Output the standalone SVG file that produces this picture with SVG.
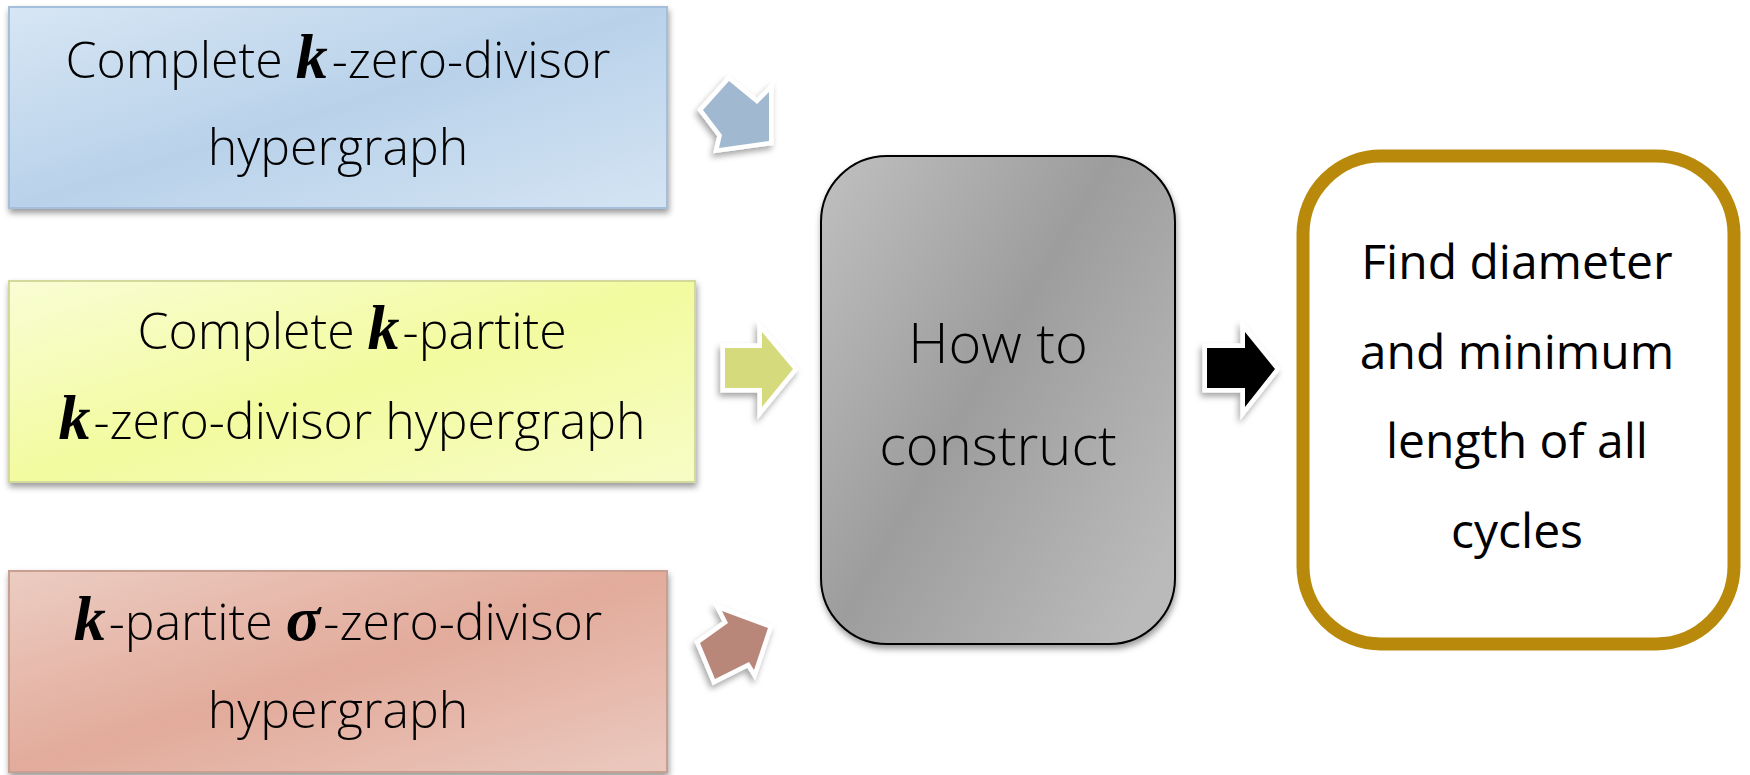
<svg xmlns="http://www.w3.org/2000/svg" width="1750" height="775" viewBox="0 0 1750 775">
<defs>
<linearGradient id="gBlue" x1="0" y1="0" x2="1" y2="1">
<stop offset="0" stop-color="#d7e6f4"/><stop offset="0.5" stop-color="#b9d2ea"/><stop offset="1" stop-color="#d4e4f3"/>
</linearGradient>
<linearGradient id="gYellow" x1="0" y1="0" x2="1" y2="1">
<stop offset="0" stop-color="#f9fdd4"/><stop offset="0.5" stop-color="#f2fb9f"/><stop offset="1" stop-color="#f7fcc6"/>
</linearGradient>
<linearGradient id="gRed" x1="0" y1="0" x2="1" y2="1">
<stop offset="0" stop-color="#ecccc2"/><stop offset="0.5" stop-color="#e2ab9b"/><stop offset="1" stop-color="#ebc9bf"/>
</linearGradient>
<linearGradient id="gGray" x1="0" y1="0" x2="1" y2="0.8">
<stop offset="0" stop-color="#c0c0c0"/><stop offset="0.5" stop-color="#9d9d9d"/><stop offset="1" stop-color="#bababa"/>
</linearGradient>
<filter id="shadow" x="-10%" y="-10%" width="125%" height="130%">
<feDropShadow dx="1" dy="4" stdDeviation="3" flood-color="#000" flood-opacity="0.4"/>
</filter>
<filter id="ashadow" x="-30%" y="-30%" width="170%" height="170%">
<feDropShadow dx="-2" dy="4" stdDeviation="3" flood-color="#000" flood-opacity="0.35"/>
</filter>
</defs>
<style>
.box{stroke-width:2}
.lt{font-family:"Open Sans","DejaVu Sans",sans-serif;font-weight:300;font-size:50px;fill:#000;text-anchor:middle}
.mid{font-family:"Open Sans","DejaVu Sans",sans-serif;font-weight:300;font-size:56px;fill:#000;text-anchor:middle}
.gt{font-family:"Open Sans","DejaVu Sans",sans-serif;font-weight:400;font-size:48px;fill:#000;text-anchor:middle}
.m{font-family:"Liberation Serif","DejaVu Serif",serif;font-style:italic;font-weight:bold;font-size:64px}
.arr{stroke:#fff;stroke-width:9;stroke-linejoin:miter;paint-order:stroke;filter:url(#ashadow)}
</style>
<rect width="1750" height="775" fill="#fff"/>
<g id="connectors">
<polygon class="arr" fill="#a0b8d0" points="729,81 757,104 769,92 769,141 719,148 722,135 703,110"/>
<polygon class="arr" fill="#d5da7b" points="725,348 762,348 762,332 793,369 762,407 762,388 725,388"/>
<polygon class="arr" fill="#b8877a" points="722,611 768,628 754,670 749,662 715,679 700,643 728,623"/>
<polygon class="arr" fill="#000" points="1207,348 1245,348 1245,332 1275,369 1245,407 1245,388 1207,388"/>
</g>
<g id="node-blue">
<rect class="box" x="9" y="7" width="658" height="201" fill="url(#gBlue)" stroke="#a3bfdb" filter="url(#shadow)"/>
<text class="lt" x="338" y="78">Complete <tspan class="m">k</tspan><tspan dx="4">-zero-divisor</tspan></text>
<text class="lt" x="338" y="165">hypergraph</text>
</g>
<g id="node-yellow">
<rect class="box" x="9" y="281" width="686" height="201" fill="url(#gYellow)" stroke="#d3d99a" filter="url(#shadow)"/>
<text class="lt" x="352" y="349">Complete <tspan class="m">k</tspan><tspan dx="3">-partite</tspan></text>
<text class="lt" x="352" y="439"><tspan class="m">k</tspan><tspan dx="3">-zero-divisor hypergraph</tspan></text>
</g>
<g id="node-red">
<rect class="box" x="9" y="571" width="658" height="201" fill="url(#gRed)" stroke="#c99f91" filter="url(#shadow)"/>
<text class="lt" x="338" y="640"><tspan class="m">k</tspan><tspan dx="3">-partite </tspan><tspan class="m">σ</tspan><tspan dx="3">-zero-divisor</tspan></text>
<text class="lt" x="338" y="728">hypergraph</text>
</g>
<g id="node-construct">
<rect x="821" y="156" width="354" height="488" rx="66" ry="66" fill="url(#gGray)" stroke="#000" stroke-width="2" filter="url(#shadow)"/>
<text class="mid" x="998" y="363">How to</text>
<text class="mid" x="998" y="465">construct</text>
</g>
<g id="node-find">
<rect x="1303" y="156" width="431" height="488" rx="78" ry="78" fill="#fff" stroke="#b8890a" stroke-width="13"/>
<text class="gt" x="1517" y="279">Find diameter</text>
<text class="gt" x="1517" y="369">and minimum</text>
<text class="gt" x="1517" y="458">length of all</text>
<text class="gt" x="1517" y="548">cycles</text>
</g>
</svg>
